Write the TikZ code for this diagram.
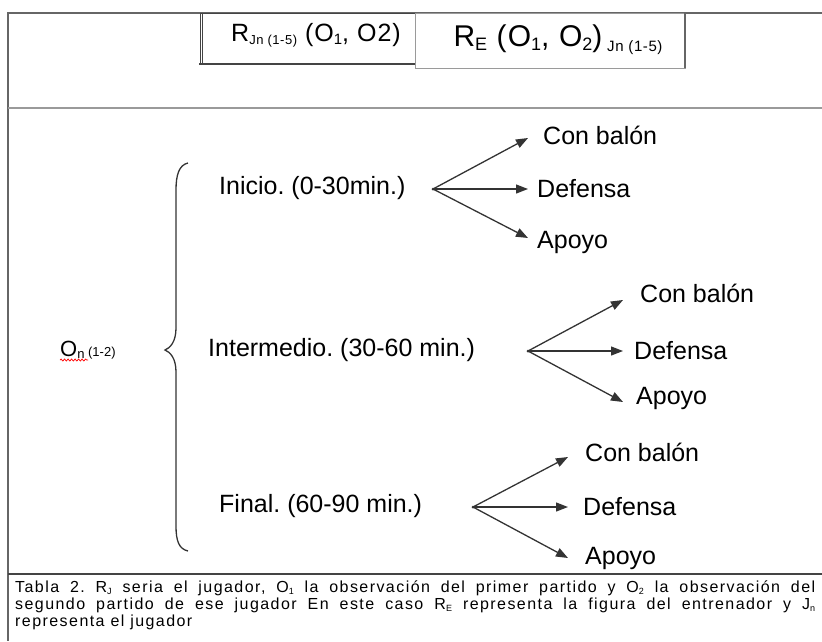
\documentclass[tikz,border=0pt]{standalone}
\usepackage{fontspec}
\setmainfont{Liberation Sans}
\newfontfamily\capfont[LetterSpace=9]{Liberation Sans}
\newfontfamily\hdrfont[LetterSpace=4]{Liberation Sans}
\usetikzlibrary{arrows.meta,decorations.pathmorphing}
\definecolor{tablegray}{HTML}{666666}
\definecolor{lightrule}{HTML}{9A9A9A}
\definecolor{darkrule}{HTML}{444444}
\definecolor{arrowgray}{HTML}{333333}
\newcommand\lsub[3]{\raisebox{-#1}{\fontsize{#2}{#2}\selectfont #3}}
\frenchspacing
\begin{document}
\begin{tikzpicture}[x=1pt,y=-1pt,
  branchlabel/.style={anchor=west,inner sep=0pt,font=\fontsize{25}{30}\selectfont},
  leaflabel/.style={anchor=west,inner sep=0pt,font=\fontsize{25}{30}\selectfont},
  branchline/.style={draw=arrowgray,line width=1.3pt,-{Triangle[length=12pt,width=9pt]}},
  captionline/.style={anchor=west,inner sep=0pt,font=\capfont\fontsize{16}{17}\selectfont},
  headerbox/.style={inner sep=0pt}
]
\useasboundingbox (0,0) rectangle (822,641);
% table frame
\draw[tablegray,line width=1.5pt] (7,13) -- (822,13);
\draw[tablegray,line width=1.5pt] (8,13) -- (8,641);
\draw[lightrule,line width=2pt] (8,108) -- (822,108);
\draw[darkrule,line width=1.5pt] (8,574) -- (822,574);
% header boxes
\draw[darkrule,line width=1pt] (200,13) rectangle (415,64);
\draw[darkrule,line width=1.8pt] (199,64) -- (415,64);
\draw[darkrule,line width=1pt] (202,13) -- (202,64);
\draw[lightrule,line width=1pt] (415,13) rectangle (685,68);
\draw[tablegray,line width=2pt] (685,13) -- (685,68);
\node[headerbox] (h1) at (316,35) {\hdrfont\fontsize{25}{28}\selectfont R\lsub{3pt}{13}{Jn (1-5)} (O\lsub{3pt}{15}{1}, O2)};
\node[headerbox] (h2) at (558,40) {\hdrfont\fontsize{30}{32}\selectfont R\lsub{4pt}{18}{E} (O\lsub{4pt}{18}{1}, O\lsub{4pt}{18}{2})\lsub{5pt}{15}{ Jn (1-5)}};
% observation label
\node[anchor=west,inner sep=0pt] (obs) at (60,350) {\fontsize{22}{26}\selectfont O\lsub{2pt}{13}{n}\fontsize{13}{14}\selectfont\ (1-2)};
\coordinate (ul1) at (60,360);
\coordinate (ul2) at (88,360);
\draw[red,line width=0.7pt,decorate,decoration={snake,amplitude=1pt,segment length=3.5pt}] (ul1) -- (ul2);
% brace
\draw[arrowgray,line width=1.3pt] (188,163) .. controls (179,165) and (176,175) .. (176,190)
  -- (176,328) .. controls (176,342) and (170,348) .. (165,350)
  .. controls (170,352) and (176,358) .. (176,372)
  -- (176,526) .. controls (176,541) and (179,549) .. (188,551);
% branch labels
\node[branchlabel] (ini) at (219,188) {Inicio. (0-30min.)};
\node[branchlabel] (int) at (208,350) {Intermedio. (30-60 min.)};
\node[branchlabel] (fin) at (219,506) {Final. (60-90 min.)};
% branch 1
\coordinate (o1) at (433,189);
\coordinate (t1a) at (528,138);
\coordinate (t1b) at (528,189);
\coordinate (t1c) at (528,238);
\draw[branchline] (o1) -- (t1a);
\draw[branchline] (o1) -- (t1b);
\draw[branchline] (o1) -- (t1c);
\fill[arrowgray] (o1) circle (1.5pt);
\node[leaflabel] (l1a) at (543,135) {Con balón};
\node[leaflabel] (l1b) at (537,189) {Defensa};
\node[leaflabel] (l1c) at (537,242) {Apoyo};
% branch 2
\coordinate (o2) at (528,351);
\coordinate (t2a) at (623,300);
\coordinate (t2b) at (623,351);
\coordinate (t2c) at (623,402);
\draw[branchline] (o2) -- (t2a);
\draw[branchline] (o2) -- (t2b);
\draw[branchline] (o2) -- (t2c);
\fill[arrowgray] (o2) circle (1.5pt);
\node[leaflabel] (l2a) at (640,293) {Con balón};
\node[leaflabel] (l2b) at (634,351) {Defensa};
\node[leaflabel] (l2c) at (636,398) {Apoyo};
% branch 3
\coordinate (o3) at (473,507);
\coordinate (t3a) at (568,457);
\coordinate (t3b) at (568,507);
\coordinate (t3c) at (568,558);
\draw[branchline] (o3) -- (t3a);
\draw[branchline] (o3) -- (t3b);
\draw[branchline] (o3) -- (t3c);
\fill[arrowgray] (o3) circle (1.5pt);
\node[leaflabel] (l3a) at (585,452) {Con balón};
\node[leaflabel] (l3b) at (583,507) {Defensa};
\node[leaflabel] (l3c) at (585,558) {Apoyo};
% caption
\node[captionline] (c1) at (15,588) {\makebox[800pt][s]{Tabla 2. R\lsub{2pt}{9}{J} seria el jugador, O\lsub{2pt}{9}{1} la observación del primer partido y O\lsub{2pt}{9}{2} la observación del}};
\node[captionline] (c2) at (15,605) {\makebox[800pt][s]{segundo partido de ese jugador En este caso R\lsub{2pt}{9}{E} representa la figura del entrenador y J\lsub{2pt}{9}{n}}};
\node[captionline] (c3) at (15,622) {representa el jugador};
\end{tikzpicture}
\end{document}
